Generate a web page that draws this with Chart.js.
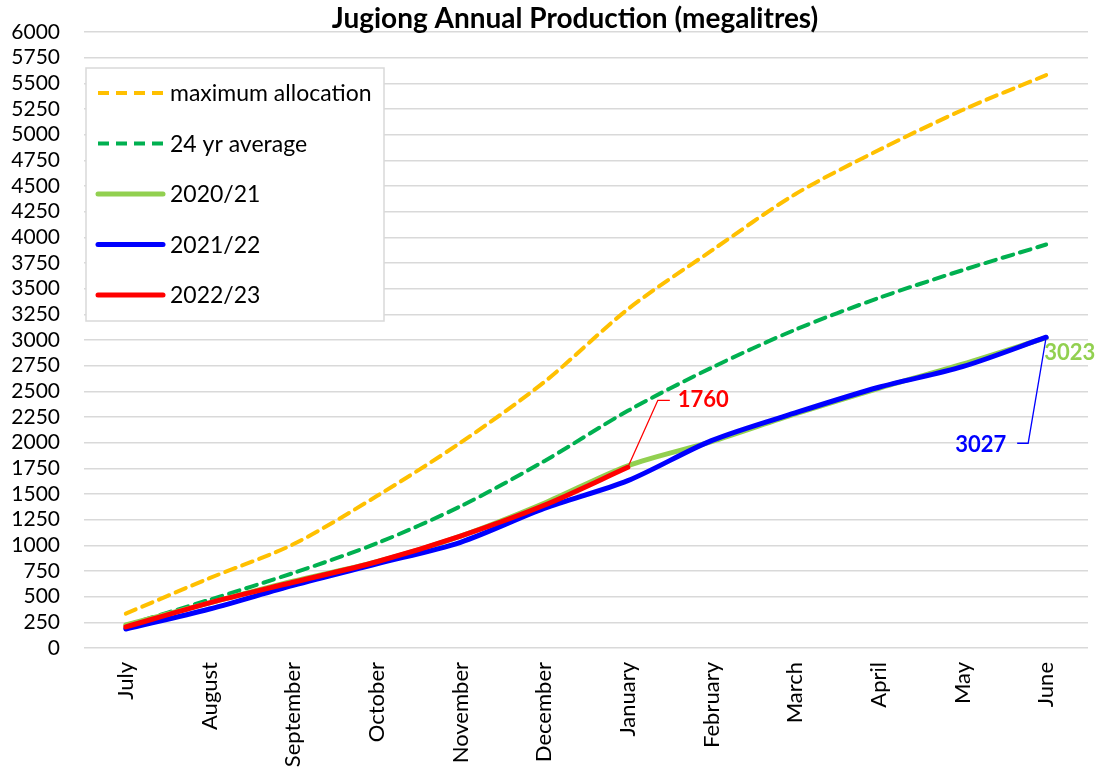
<!DOCTYPE html>
<html>
<head>
<meta charset="utf-8">
<script src="https://cdn.jsdelivr.net/npm/chart.js@4/dist/chart.umd.min.js"></script>
<style>
html,body{margin:0;padding:0;background:#fff;}
#wrap{width:1097px;height:778px;position:relative;}
</style>
</head>
<body>
<div id="wrap"><canvas id="c" width="1097" height="778"></canvas></div>
<script>
const months = ["July","August","September","October","November","December","January","February","March","April","May","June"];
const maxAllocation = [335, 680, 1010, 1480, 2000, 2590, 3300, 3870, 4420, 4850, 5240, 5580];
const avg24yr = [220, 470, 730, 1020, 1380, 1820, 2310, 2730, 3100, 3410, 3680, 3930];
const y2020_21 = [225, 440, 650, 840, 1090, 1410, 1775, 2010, 2280, 2530, 2765, 3023];
const y2021_22 = [185, 380, 610, 820, 1030, 1360, 1630, 2020, 2290, 2540, 2740, 3027];
const y2022_23 = [205, 440, 640, 840, 1090, 1390, 1760];
const yTicks = [0,250,500,750,1000,1250,1500,1750,2000,2250,2500,2750,3000,3250,3500,3750,4000,4250,4500,4750,5000,5250,5500,5750,6000];
const seriesNames = ["maximum allocation","24 yr average","2020/21","2021/22","2022/23"];
const titleText = "Jugiong Annual Production (megalitres)";

const FONT = "Lato, 'Open Sans', sans-serif";

const datasets = [
  {label: seriesNames[0], data: maxAllocation, borderColor:"#FFC000", borderWidth:4, borderDash:[11,7], order:4},
  {label: seriesNames[1], data: avg24yr, borderColor:"#00B050", borderWidth:4, borderDash:[11,7], order:3},
  {label: seriesNames[2], data: y2020_21, borderColor:"#92D050", borderWidth:5, order:2},
  {label: seriesNames[3], data: y2021_22, borderColor:"#0000FF", borderWidth:5, order:1},
  {label: seriesNames[4], data: y2022_23, borderColor:"#FF0000", borderWidth:5, order:0}
].map(d => Object.assign({pointRadius:0, tension:0.3, fill:false, borderCapStyle:'round', borderJoinStyle:'round'}, d));

const overlay = {
  id:'overlay',
  afterDatasetsDraw(chart){
    const ctx = chart.ctx, xs = chart.scales.x, ys = chart.scales.y;
    ctx.save();
    // title
    ctx.fillStyle = "#000";
    ctx.font = "bold 28px " + FONT;
    ctx.textAlign = "center"; ctx.textBaseline = "middle";
    ctx.fillText(titleText, 575, 19);

    // 1760 annotation
    let i = y2022_23.length - 1;
    let px = xs.getPixelForValue(i), py = ys.getPixelForValue(y2022_23[i]);
    ctx.strokeStyle = "#FF0000"; ctx.lineWidth = 1.3;
    ctx.beginPath(); ctx.moveTo(px, py); ctx.lineTo(px+30, py-67); ctx.lineTo(px+42, py-67); ctx.stroke();
    ctx.fillStyle = "#FF0000"; ctx.font = "bold 22px " + FONT;
    ctx.textAlign = "left";
    ctx.fillText(String(y2022_23[i]), px+50, py-67);

    // 3027 annotation
    i = y2021_22.length - 1;
    px = xs.getPixelForValue(i); py = ys.getPixelForValue(y2021_22[i]);
    ctx.strokeStyle = "#0000FF";
    ctx.beginPath(); ctx.moveTo(px, py); ctx.lineTo(px-18, py+106); ctx.lineTo(px-29, py+106); ctx.stroke();
    ctx.fillStyle = "#0000FF"; ctx.textAlign = "right";
    ctx.fillText(String(y2021_22[i]), px-40, py+108);

    // 3023 annotation
    i = y2020_21.length - 1;
    px = xs.getPixelForValue(i); py = ys.getPixelForValue(y2020_21[i]);
    ctx.fillStyle = "#92D050"; ctx.textAlign = "left";
    ctx.fillText(String(y2020_21[i]), px-2, py+15);

    // legend
    const lx = 86, ly = 68, lw = 298, lh = 253;
    ctx.fillStyle = "#fff"; ctx.fillRect(lx, ly, lw, lh);
    ctx.strokeStyle = "#d9d9d9"; ctx.lineWidth = 1.5; ctx.strokeRect(lx, ly, lw, lh);
    ctx.font = "23px " + FONT; ctx.textAlign = "left"; ctx.textBaseline = "middle";
    chart.data.datasets.forEach((ds, k) => {
      const yy = 93 + k*50.5;
      ctx.strokeStyle = ds.borderColor; ctx.lineWidth = ds.borderWidth;
      ctx.setLineDash(ds.borderDash || []);
      ctx.lineCap = ds.borderDash ? 'butt' : 'round';
      ctx.beginPath(); ctx.moveTo(98, yy); ctx.lineTo(163, yy); ctx.stroke();
      ctx.setLineDash([]);
      ctx.fillStyle = "#000";
      ctx.fillText(ds.label, 170, yy+1);
    });
    ctx.restore();
  }
};

new Chart(document.getElementById('c'), {
  type:'line',
  data:{labels: months, datasets},
  options:{
    responsive:false, animation:false,
    layout:{padding:{top:32, right:9, left:0, bottom:0}},
    plugins:{legend:{display:false}, tooltip:{enabled:false}, title:{display:false}},
    scales:{
      x:{
        offset:true,
        grid:{display:false, drawTicks:false},
        border:{display:false},
        ticks:{color:"#000", font:{family:FONT, size:22}, maxRotation:90, minRotation:90, padding:14, autoSkip:false},
        afterFit(s){ s.height = 130; }
      },
      y:{
        min:0, max:6000,
        afterBuildTicks(s){ s.ticks = yTicks.map(v => ({value:v})); },
        grid:{color:"#d9d9d9", lineWidth:1.5, drawTicks:false},
        border:{display:false},
        ticks:{color:"#000", font:{family:FONT, size:21}, padding:24, autoSkip:false, stepSize:250, callback:(v)=>String(v)},
        afterFit(s){ s.width = 84; s.paddingTop = 0; s.paddingBottom = 0; }
      }
    }
  },
  plugins:[overlay]
});
</script>
</body>
</html>
